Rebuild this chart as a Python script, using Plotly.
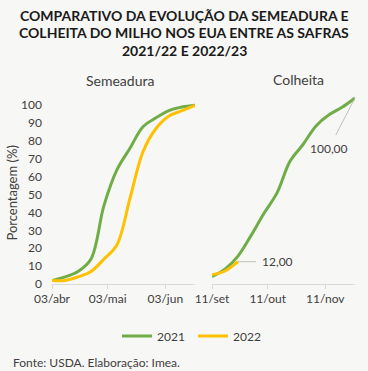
import plotly.graph_objects as go

# ---- data ----
plant_dates = ["2022-04-03", "2022-04-10", "2022-04-17", "2022-04-24", "2022-05-01", "2022-05-08",
               "2022-05-15", "2022-05-22", "2022-05-29", "2022-06-05", "2022-06-12", "2022-06-19"]
plant_2021 = [2, 4, 7, 14, 44, 64, 76, 88, 93, 97, 99, 100]
plant_2022 = [2, 2, 4, 7, 14, 22, 48, 74, 87, 94, 97, 100]

harv_dates = ["2022-09-11", "2022-09-18", "2022-09-25", "2022-10-02", "2022-10-09", "2022-10-16",
              "2022-10-23", "2022-10-30", "2022-11-06", "2022-11-13", "2022-11-20", "2022-11-27"]
harv_2021 = [4, 8, 15, 26, 38, 49, 66, 75, 85, 91, 95, 100]
harv_2022 = [5, 7, 12]

plant_ticks = ["2022-04-03", "2022-05-03", "2022-06-03"]
plant_ticktext = ["03/abr", "03/mai", "03/jun"]
harv_ticks = ["2022-09-11", "2022-10-11", "2022-11-11"]
harv_ticktext = ["11/set", "11/out", "11/nov"]
y_ticks = list(range(0, 101, 10))

GREEN = "#70AD47"
YELLOW = "#FFC000"
TXT = "#404040"
AXC = "#D9D9D9"
BG = "#F7F7F5"
FONT = "Lato"

W, H = 368, 371

def fx(px):
    return px / W

def fy(py):
    return (H - py) / H

line_kw = dict(width=3, shape="spline", smoothing=1.0)

fig = go.Figure()
fig.add_trace(go.Scatter(x=plant_dates, y=plant_2021, name="2021", mode="lines",
                         line=dict(color=GREEN, **line_kw),
                         xaxis="x", yaxis="y", legendgroup="2021"))
fig.add_trace(go.Scatter(x=plant_dates, y=plant_2022, name="2022", mode="lines",
                         line=dict(color=YELLOW, **line_kw),
                         xaxis="x", yaxis="y", legendgroup="2022"))
fig.add_trace(go.Scatter(x=harv_dates, y=harv_2021, name="2021", mode="lines",
                         line=dict(color=GREEN, **line_kw),
                         xaxis="x2", yaxis="y2", legendgroup="2021", showlegend=False))
fig.add_trace(go.Scatter(x=harv_dates[:len(harv_2022)], y=harv_2022, name="2022", mode="lines",
                         line=dict(color=YELLOW, **line_kw),
                         xaxis="x2", yaxis="y2", legendgroup="2022", showlegend=False))

# y axes: 0 at pixel 284; left 100 at 105.3, right 100 at 98
ytop_l = 284 - 102 * (284 - 105.3) / 100
ytop_r = 284 - 102 * (284 - 98) / 100

xcommon = dict(type="date", showline=True, linecolor=AXC, linewidth=1, ticks="outside",
               ticklen=4, tickcolor=AXC, showgrid=False, zeroline=False, automargin=False,
               tickfont=dict(family=FONT, size=12, color=TXT), fixedrange=True)

fig.update_layout(
    width=W, height=H,
    margin=dict(l=0, r=0, t=0, b=0, autoexpand=False),
    paper_bgcolor=BG, plot_bgcolor=BG,
    font=dict(family=FONT, color=TXT),
    showlegend=True,
    xaxis=dict(domain=[fx(52), fx(195)], range=[plant_dates[0], plant_dates[-1]],
               tickvals=plant_ticks, ticktext=plant_ticktext, anchor="y", **xcommon),
    xaxis2=dict(domain=[fx(212), fx(355)], range=[harv_dates[0], harv_dates[-1]],
                tickvals=harv_ticks, ticktext=harv_ticktext, anchor="y2", **xcommon),
    yaxis=dict(domain=[fy(284), fy(ytop_l)], range=[0, 102], tickvals=y_ticks,
               showgrid=False, zeroline=False, showline=False, ticks="", automargin=False,
               ticklabelstandoff=9,
               tickfont=dict(family=FONT, size=12, color=TXT), anchor="x",
               title=dict(text="Porcentagem (%)", font=dict(family=FONT, size=13, color=TXT),
                          standoff=0)),
    yaxis2=dict(domain=[fy(284), fy(ytop_r)], range=[0, 102], showticklabels=False,
                showgrid=False, zeroline=False, showline=False, ticks="", anchor="x2",
                automargin=False),
    legend=dict(orientation="h", x=fx(117), y=fy(336), xanchor="left", yanchor="middle",
                font=dict(family=FONT, size=12, color=TXT), bgcolor="rgba(0,0,0,0)",
                entrywidth=31, entrywidthmode="pixels", itemwidth=30),
)

# title
title_lines = ["COMPARATIVO DA EVOLUÇÃO DA SEMEADURA E",
               "COLHEITA DO MILHO NOS EUA ENTRE AS SAFRAS",
               "2021/22 E 2022/23"]
for i, t in enumerate(title_lines):
    fig.add_annotation(text="<b>" + t + "</b>", xref="paper", yref="paper",
                       x=0.5, y=fy(15 + i * 17.5), xanchor="center", yanchor="middle",
                       showarrow=False, font=dict(family=FONT, size=14, color="#1a1a1a"))

fig.add_annotation(text="Semeadura", xref="paper", yref="paper", x=fx(120), y=fy(80.5),
                   xanchor="center", yanchor="middle", showarrow=False,
                   font=dict(family=FONT, size=14, color=TXT))
fig.add_annotation(text="Colheita", xref="paper", yref="paper", x=fx(298), y=fy(79.5),
                   xanchor="center", yanchor="middle", showarrow=False,
                   font=dict(family=FONT, size=14, color=TXT))

# data labels
fig.add_annotation(text="12,00", xref="x2", yref="y2", x=harv_dates[len(harv_2022) - 1],
                   y=harv_2022[-1], ax=39, ay=0, showarrow=True, arrowhead=0,
                   arrowwidth=1, arrowcolor="#BFBFBF", borderpad=5,
                   font=dict(family=FONT, size=12, color=TXT))
fig.add_annotation(text="100,00", xref="x2", yref="y2", x=harv_dates[-1],
                   y=harv_2021[-1], ax=-26, ay=50, showarrow=True, arrowhead=0,
                   arrowwidth=1, arrowcolor="#BFBFBF", borderpad=5,
                   font=dict(family=FONT, size=12, color=TXT))

fig.add_annotation(text="Fonte: USDA. Elaboração: Imea.", xref="paper", yref="paper",
                   x=fx(11), y=fy(362.5), xanchor="left", yanchor="middle", showarrow=False,
                   font=dict(family=FONT, size=12, color=TXT))

fig.write_html("out.html", config={"displayModeBar": False},
               post_script="document.body.style.margin='0';document.body.style.background='%s';" % BG)
